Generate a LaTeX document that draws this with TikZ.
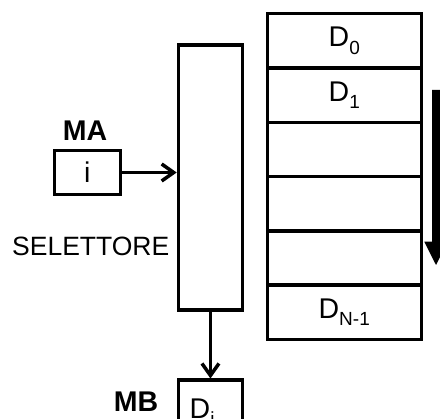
\documentclass[tikz,border=0pt]{standalone}
\usepackage{fontspec}
\setmainfont{Liberation Sans}
\usetikzlibrary{arrows.meta}
\tikzset{
  lbl/.style={font=\fontsize{26.5}{26.5}\selectfont, inner sep=0pt},
  dlbl/.style={font=\fontsize{28.5}{28.5}\selectfont, inner sep=0pt},
  blbl/.style={font=\fontsize{28.5}{28.5}\selectfont\bfseries, inner sep=0pt},
  reg/.style={draw, line width=3.5pt, inner sep=0pt, anchor=north west},
  conn/.style={line width=3.5pt, -{Straight Barb[length=12pt,width=17pt,line width=3.5pt]}},
}
\newcommand{\Dsub}[1]{D\raisebox{-7.5pt}{\fontsize{19}{19}\selectfont #1}}
\begin{document}
\begin{tikzpicture}[x=1pt,y=-1pt]
\useasboundingbox (0,0) rectangle (440,419);
\clip (0,0) rectangle (440,419);
% memory rows
\foreach \k/\t in {0/\Dsub{0},1/\Dsub{1},2/{},3/{},4/{},5/\Dsub{N-1}}{
  \node[reg, minimum width=154pt, minimum height=54.3pt, dlbl]
    (r\k) at (265.5,{12+\k*54.3}) {\t};
}
% selector
\node[reg, minimum width=64pt, minimum height=265pt] (sel) at (176.7,43.3) {};
% MA register
\node[reg, minimum width=66pt, minimum height=44pt, dlbl] (ma) at (52.5,148.7) {i};
\node[blbl, anchor=base] (malbl) at (85,140.5) {MA};
% MB register
\node[reg, minimum width=64pt, minimum height=60pt] (mb) at (176.7,378.5) {};
\node[dlbl, anchor=base west] (mbtxt) at (189.5,418.5) {\Dsub{i}};
\node[blbl, anchor=base] (mblbl) at (136,412) {MB};
% selettore label
\node[lbl, anchor=base east] (seltxt) at (169.5,256) {SELETTORE};
% connectors
\draw[conn] (ma.east |- 0,172.5) -- (sel.west |- 0,172.5);
\draw[conn] (sel.south) -- (mb.north);
% big arrow
\fill (432,90) -- (441,90) -- (441,241.7) -- (447.7,241.7) -- (436,265) -- (424.3,241.7) -- (432,241.7) -- cycle;
\end{tikzpicture}
\end{document}
